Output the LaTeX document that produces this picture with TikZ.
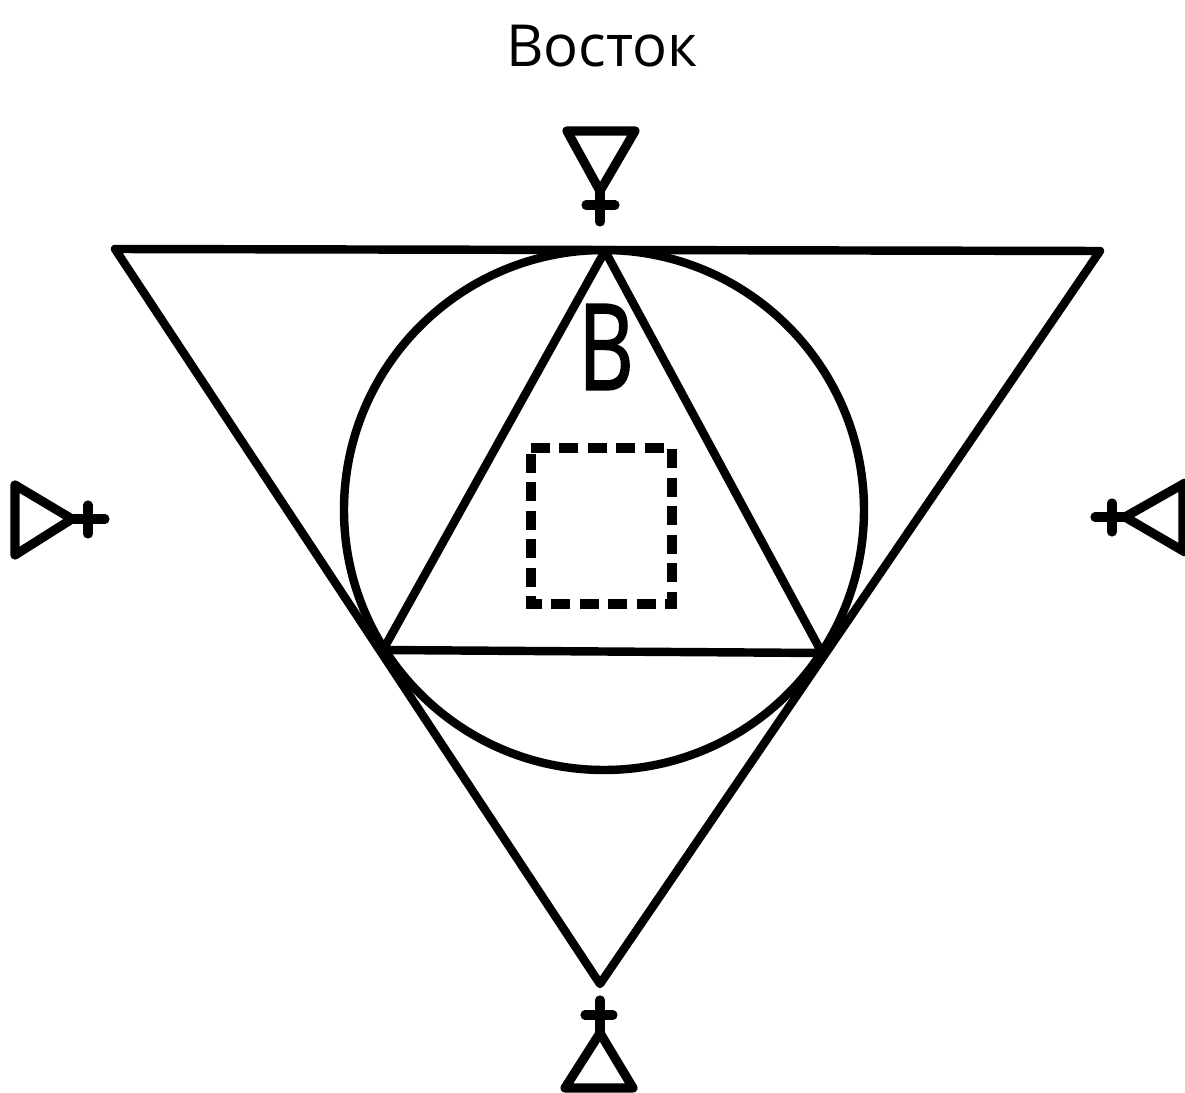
\documentclass[tikz,border=0pt]{standalone}
\usepackage{fontspec}
\setmainfont{Open Sans}
\newfontfamily\heavyfont[FakeBold=1.6]{Open Sans}
\tikzset{
  figline/.style={line width=2.4pt, line join=round, line cap=round},
  symline/.style={line width=2.6pt, line join=round, line cap=round},
  dashline/.style={line width=2.6pt, line join=miter, dash pattern=on 5.4pt off 2.7pt},
}
\begin{document}
\begin{tikzpicture}
  \useasboundingbox (0,0) rectangle (11.85,10.93);
  % большой треугольник
  \coordinate (P) at (1.15,8.44);
  \coordinate (Q) at (11.00,8.42);
  \coordinate (R) at (6.00,1.09);
  % малый треугольник
  \coordinate (T) at (6.05,8.42);
  \coordinate (U) at (3.83,4.43);
  \coordinate (V) at (8.22,4.40);
  \draw[figline] (P) -- (Q) -- (R) -- cycle;
  \draw[figline] (6.04,5.83) circle (2.60);
  \draw[figline] (T) -- (U) -- (V) -- cycle;
  % пунктирный квадрат
  \coordinate (SA) at (5.31,6.45);
  \coordinate (SB) at (6.72,6.45);
  \coordinate (SC) at (6.72,4.89);
  \coordinate (SD) at (5.31,4.89);
  \draw[dashline] (SA) -- (SB) -- (SC) -- (SD) -- cycle;
  % подписи
  \node[font=\fontsize{16.5}{20}\selectfont] (vostok) at (6.02,10.47) {Восток};
  \node[font=\heavyfont\fontsize{34}{36}\selectfont, transform shape, xscale=.72] (letter) at (6.06,7.46) {В};
  % верхний знак
  \draw[symline] (5.67,9.62) -- (6.35,9.62) -- (6.00,9.02) -- cycle;
  \draw[symline] (6.00,9.02) -- (6.00,8.71) (5.86,8.88) -- (6.15,8.88);
  % левый знак
  \draw[symline] (0.15,6.08) -- (0.15,5.38) -- (0.72,5.74) -- cycle;
  \draw[symline] (0.72,5.74) -- (1.05,5.74) (0.88,5.88) -- (0.88,5.59);
  % правый знак
  \draw[symline] (11.85,6.10) -- (11.25,5.76) -- (11.85,5.41) (11.83,6.09) -- (11.83,5.42);
  \draw[symline] (11.25,5.76) -- (10.95,5.76) (11.12,5.90) -- (11.12,5.61);
  % нижний знак
  \draw[symline] (5.65,0.05) -- (6.33,0.05) -- (6.00,0.60) -- cycle;
  \draw[symline] (6.00,0.60) -- (6.00,0.93) (5.85,0.78) -- (6.13,0.78);
\end{tikzpicture}
\end{document}
